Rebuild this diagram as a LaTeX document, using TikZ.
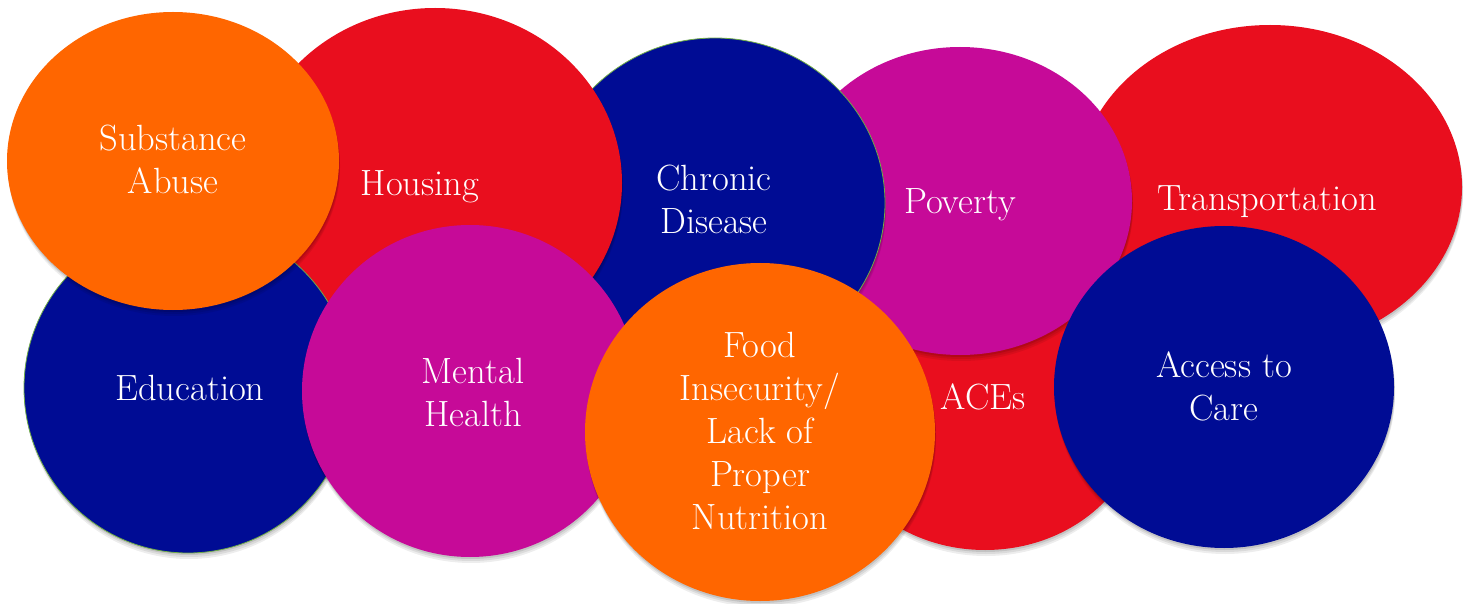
\documentclass[tikz,border=0pt]{standalone}
\usetikzlibrary{shapes.geometric,shadows}
\definecolor{cOrange}{RGB}{255,102,0}
\definecolor{cRed}{RGB}{233,14,30}
\definecolor{cNavy}{RGB}{0,12,148}
\definecolor{cMag}{RGB}{198,10,152}
\definecolor{cGreen}{RGB}{112,173,71}
\tikzset{
  blob/.style={ellipse, inner sep=0pt, draw=none,
    general shadow={fill=black, opacity=0.07, shadow xshift=1pt, shadow yshift=-6pt},
    general shadow={fill=black, opacity=0.08, shadow xshift=1pt, shadow yshift=-4pt},
    general shadow={fill=black, opacity=0.10, shadow xshift=0.5pt, shadow yshift=-2pt}},
  outl/.style={draw=cGreen, line width=0.8pt},
  lbl/.style={text=white, align=center, inner sep=0pt, font=\fontsize{36.5}{43}\selectfont},
}
\begin{document}
\begin{tikzpicture}[x=1pt,y=-1pt]
\useasboundingbox[fill=white] (0,0) rectangle (1473,604);
% back to front
\node[blob, fill=cRed, minimum width=384pt, minimum height=324pt] (transp) at (1270,187) {};
\node[blob, fill=cRed, minimum width=316pt, minimum height=280pt] (aces) at (985,410) {};
\node[blob, fill=cMag, minimum width=344pt, minimum height=308pt] (pov) at (960,201) {};
\node[blob, outl, fill=cNavy, minimum width=340pt, minimum height=330pt] (chron) at (715,203) {};
\node[blob, fill=cRed, minimum width=374pt, minimum height=350pt] (hous) at (435,183) {};
\node[blob, outl, fill=cNavy, minimum width=328pt, minimum height=330pt] (edu) at (188,388) {};
\node[blob, fill=cOrange, minimum width=332pt, minimum height=298pt] (subst) at (173,161) {};
\node[blob, fill=cMag, minimum width=336pt, minimum height=332pt] (ment) at (470,391) {};
\node[blob, fill=cOrange, minimum width=350pt, minimum height=338pt] (food) at (760,432) {};
\node[blob, fill=cNavy, minimum width=340pt, minimum height=322pt] (acc) at (1224,387) {};
% labels
\node[lbl, anchor=base] (tTransp) at (1267,211) {Transportation};
\node[lbl, anchor=base] (tAces) at (983,409) {ACEs};
\node[lbl, anchor=base] (tPov) at (960,214) {Poverty};
\node[lbl] (tChron) at (714,199) {Chronic\\Disease};
\node[lbl, anchor=base] (tHous) at (420,196) {Housing};
\node[lbl, anchor=base] (tEdu) at (190,400) {Education};
\node[lbl] (tSubst) at (173,159) {Substance\\Abuse};
\node[lbl] (tMent) at (473,392) {Mental\\Health};
\node[lbl] (tFood) at (760,431) {Food\\Insecurity/\\Lack of\\Proper\\Nutrition};
\node[lbl] (tAcc) at (1224,386) {Access to\\Care};
\end{tikzpicture}
\end{document}
